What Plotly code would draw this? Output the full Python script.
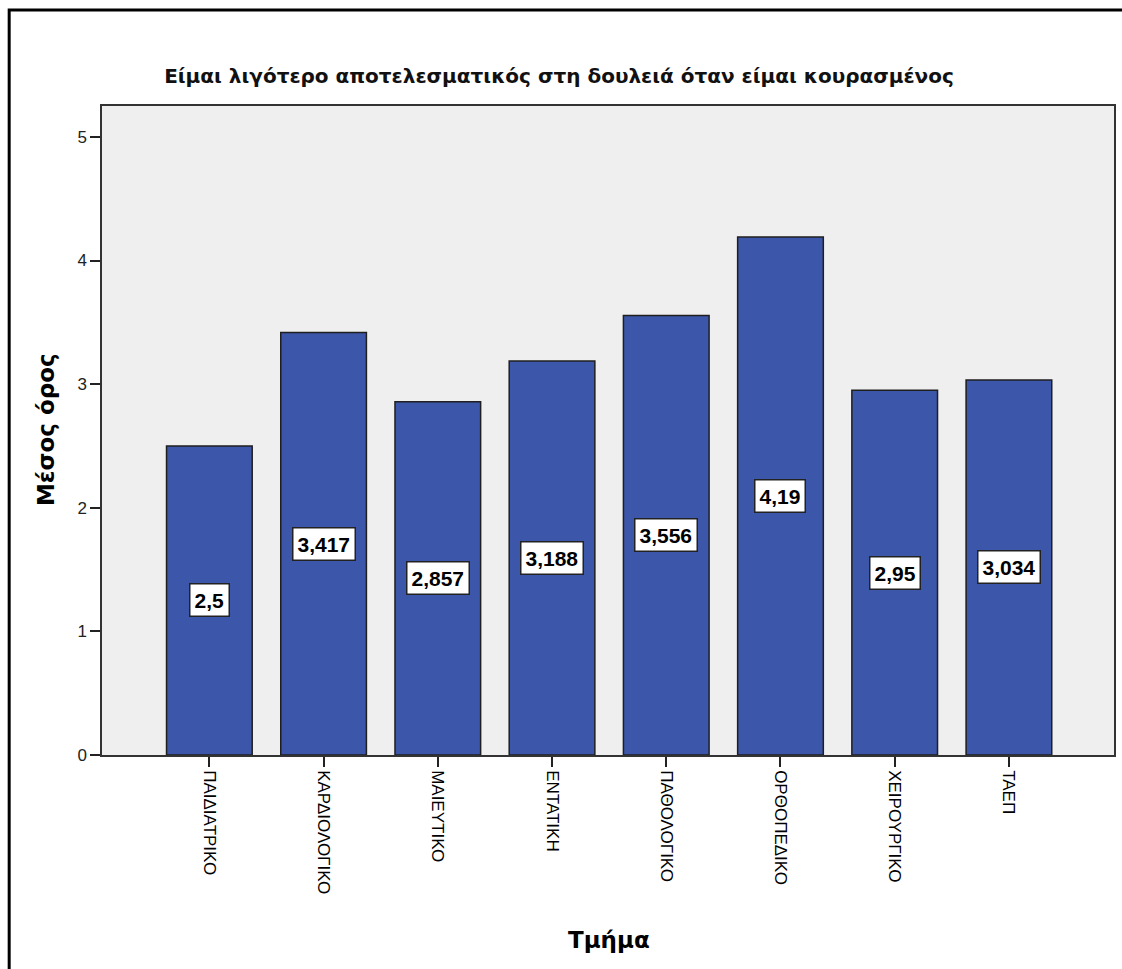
import plotly.graph_objects as go

# Mean score per department
departments = ["ΠΑΙΔΙΑΤΡΙΚΟ", "ΚΑΡΔΙΟΛΟΓΙΚΟ", "ΜΑΙΕΥΤΙΚΟ", "ΕΝΤΑΤΙΚΗ",
               "ΠΑΘΟΛΟΓΙΚΟ", "ΟΡΘΟΠΕΔΙΚΟ", "ΧΕΙΡΟΥΡΓΙΚΟ", "ΤΑΕΠ"]
means = [2.5, 3.417, 2.857, 3.188, 3.556, 4.19, 2.95, 3.034]
y_ticks = [0, 1, 2, 3, 4, 5]

W, H = 1122, 969
L, R, T, B = 102, 6, 106, 214
pw, ph = W - L - R, H - T - B


def px_x(x):
    return (x - L) / pw


def px_y(y):
    return (H - B - y) / ph


xs = list(range(len(departments)))

fig = go.Figure()
fig.add_trace(go.Bar(
    x=xs, y=means, width=0.75,
    marker=dict(color="#3C56A9", line=dict(color="#1f1f1f", width=1.5)),
    hoverinfo="skip",
))

# value boxes placed at the middle of each bar
for i, v in zip(xs, means):
    fig.add_annotation(
        x=i, y=v / 2, text="<b>" + str(v).replace(".", ",") + "</b>",
        showarrow=False, bgcolor="white", bordercolor="#222222",
        borderwidth=1.5, borderpad=4,
        font=dict(family="Liberation Sans, Arial", size=21, color="black"),
    )

# axis titles
fig.add_annotation(xref="paper", yref="paper", x=px_x(610), y=px_y(940),
                   text="<b>Τμήμα</b>", showarrow=False,
                   xanchor="center", yanchor="middle",
                   font=dict(family="DejaVu Sans", size=23, color="black"))
fig.add_annotation(xref="paper", yref="paper", x=px_x(46), y=px_y(430),
                   text="<b>Μέσος όρος</b>", showarrow=False, textangle=-90,
                   xanchor="center", yanchor="middle",
                   font=dict(family="DejaVu Sans", size=23, color="black"))

# outer frame around the whole chart
fig.add_shape(type="rect", xref="paper", yref="paper",
              x0=px_x(9), x1=1.2, y0=-0.6, y1=px_y(10),
              line=dict(color="black", width=3), fillcolor="rgba(0,0,0,0)",
              layer="below")

fig.update_layout(
    width=W, height=H,
    margin=dict(l=L, r=R, t=T, b=B, pad=0),
    paper_bgcolor="white", plot_bgcolor="#EFEFEF",
    showlegend=False,
    title=dict(text="<b>Είμαι λιγότερο αποτελεσματικός στη δουλειά όταν είμαι κουρασμένος</b>",
               x=559 / W, xanchor="center", y=1 - 76 / H, yanchor="middle",
               font=dict(family="DejaVu Sans", size=20, color="#111111")),
    xaxis=dict(
        range=[-0.94, 7.92], tickvals=xs, ticktext=departments,
        tickangle=90, ticks="outside", ticklen=10, tickwidth=1.5, tickcolor="#222",
        showline=True, linecolor="#333", linewidth=1.5, mirror=True,
        showgrid=False, zeroline=False,
        tickfont=dict(family="Liberation Sans, Arial", size=17, color="black"),
    ),
    yaxis=dict(
        range=[0, 5.25], tickvals=y_ticks, ticks="outside", ticklen=10,
        tickwidth=1.5, tickcolor="#222",
        showline=True, linecolor="#333", linewidth=1.5, mirror=True,
        showgrid=False, zeroline=False,
        tickfont=dict(family="Liberation Sans, Arial", size=17, color="#222"),
    ),
)

fig.write_html("out.html")
